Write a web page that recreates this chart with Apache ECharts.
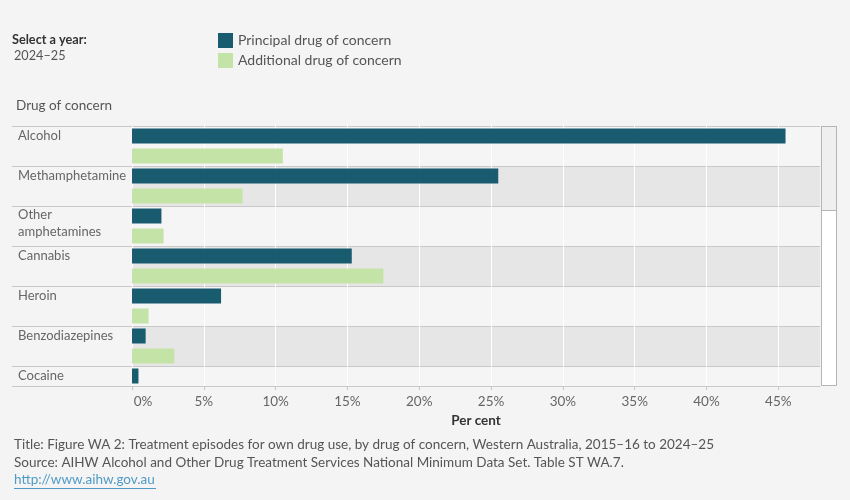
<!DOCTYPE html>
<html>
<head>
<meta charset="utf-8">
<script src="https://cdn.jsdelivr.net/npm/echarts@6/dist/echarts.min.js"></script>
<style>
  html, body { margin: 0; padding: 0; background: #f4f4f4; }
  #main { width: 850px; height: 500px; }
</style>
</head>
<body>
<div id="main"></div>
<script>
// drugs of concern, in display order (Cocaine is cut off by the scroll window)
var drugs = ['Alcohol', 'Methamphetamine', 'Other\namphetamines', 'Cannabis', 'Heroin', 'Benzodiazepines', 'Cocaine'];
// per cent of treatment episodes, 2024-25
var principal = [45.5, 25.5, 2.05, 15.3, 6.2, 0.95, 0.45];
var additional = [10.5, 7.7, 2.2, 17.5, 1.15, 2.95, null]; // cocaine additional is scrolled out of view
var xTicks = [0, 5, 10, 15, 20, 25, 30, 35, 40, 45];

var FONT = 'Lato, "Liberation Sans", sans-serif';

// each drug gets two slots on the axis: one for each bar
var slots = [], pData = [], aData = [];
drugs.forEach(function (d, i) {
  slots.push(d);
  pData.push(principal[i]);
  aData.push(null);
  if (additional[i] != null) {
    slots.push(d + '#add');
    pData.push(null);
    aData.push(additional[i]);
  }
});

var chart = echarts.init(document.getElementById('main'));

chart.setOption({
  backgroundColor: '#f4f4f4',
  textStyle: { fontFamily: FONT },
  animation: false,
  title: [
    { text: 'Select a year:', left: 12, top: 33, padding: 0,
      textStyle: { fontSize: 12.7, fontWeight: 'bold', color: '#333', fontFamily: FONT } },
    { text: '2024–25', left: 14, top: 49, padding: 0,
      textStyle: { fontSize: 12.7, fontWeight: 'normal', color: '#555', fontFamily: FONT } },
    { text: 'Drug of concern', left: 16, top: 99, padding: 0,
      textStyle: { fontSize: 13.5, fontWeight: 'normal', color: '#555', fontFamily: FONT } },
    { text: 'Title: Figure WA 2: Treatment episodes for own drug use, by drug of concern, Western Australia, 2015–16 to 2024–25\nSource: AIHW Alcohol and Other Drug Treatment Services National Minimum Data Set. Table ST WA.7.',
      left: 14, top: 435, padding: 0,
      textStyle: { fontSize: 13.5, fontWeight: 'normal', color: '#555', lineHeight: 18.5, fontFamily: FONT } },
    { text: 'http://www.aihw.gov.au', link: 'http://www.aihw.gov.au', left: 14, top: 473, padding: 0,
      textStyle: { fontSize: 13.5, fontWeight: 'normal', color: '#4f9bc6', fontFamily: FONT } }
  ],
  legend: {
    orient: 'vertical',
    left: 218,
    top: 33,
    padding: 0,
    itemWidth: 15,
    itemHeight: 15,
    itemGap: 5,
    icon: 'rect',
    textStyle: { fontSize: 14, color: '#555', fontFamily: FONT },
    data: ['Principal drug of concern', 'Additional drug of concern']
  },
  grid: { left: 132, right: 30, top: 126, bottom: 114 },
  xAxis: {
    type: 'value',
    z: 1,
    min: 0,
    max: 47.9,
    name: 'Per cent',
    nameLocation: 'middle',
    nameGap: 25,
    nameTextStyle: { fontSize: 13.5, fontWeight: 'bold', color: '#333', fontFamily: FONT },
    axisLine: { show: true, lineStyle: { color: '#c8c8c8' } },
    axisTick: { show: true, length: 4, customValues: xTicks, lineStyle: { color: '#c8c8c8' } },
    axisLabel: {
      customValues: xTicks,
      margin: 9,
      fontSize: 13.5,
      color: '#666',
      formatter: function (v) { return v === 0 ? '{z|0%}' : v + '%'; },
      rich: { z: { padding: [0, 0, 0, 22], fontSize: 13.5, color: '#666' } }
    },
    splitLine: { show: true, lineStyle: { color: '#ffffff', width: 1 } }
  },
  yAxis: {
    type: 'category',
    z: 0,
    inverse: true,
    data: slots,
    axisLine: { show: true, lineStyle: { color: '#c8c8c8' } },
    axisTick: { show: true, interval: 1, length: 120, lineStyle: { color: '#c8c8c8' } },
    axisLabel: {
      interval: 1,
      align: 'left',
      margin: 114,
      fontSize: 13,
      color: '#666',
      formatter: function (v) {
        if (v.indexOf('#') >= 0) return '';
        var parts = v.split('\n');
        if (parts.length === 1) return v;
        return '{s| }\n' + parts.map(function (p) { return '{n|' + p + '}'; }).join('\n');
      },
      rich: {
        s: { height: 14, lineHeight: 14, fontSize: 1 },
        n: { lineHeight: 17, fontSize: 13, color: '#666' }
      }
    },
    splitLine: { show: true, interval: 1, lineStyle: { color: '#c8c8c8' } },
    splitArea: { show: true, interval: 1, areaStyle: { color: ['#f5f5f5', '#e6e6e6'] } }
  },
  series: [
    {
      name: 'Principal drug of concern',
      type: 'bar',
      data: pData,
      barWidth: 15,
      barGap: '-100%',
      itemStyle: { color: '#195b6f' }
    },
    {
      name: 'Additional drug of concern',
      type: 'bar',
      data: aData,
      barWidth: 15,
      barGap: '-100%',
      itemStyle: { color: '#c4e3a6' }
    }
  ],
  graphic: [
    // scroll bar of the table view
    { type: 'rect', shape: { x: 821.5, y: 126.5, width: 15, height: 259 },
      style: { fill: '#ffffff', stroke: '#b4b4b4', lineWidth: 1 } },
    { type: 'rect', shape: { x: 821.5, y: 126.5, width: 15, height: 84 },
      style: { fill: '#efefef', stroke: '#b4b4b4', lineWidth: 1 } },
    // link underline
    { type: 'line', shape: { x1: 14, y1: 488.5, x2: 156, y2: 488.5 },
      style: { stroke: '#4f9bc6', lineWidth: 1 } }
  ]
});
</script>
</body>
</html>
